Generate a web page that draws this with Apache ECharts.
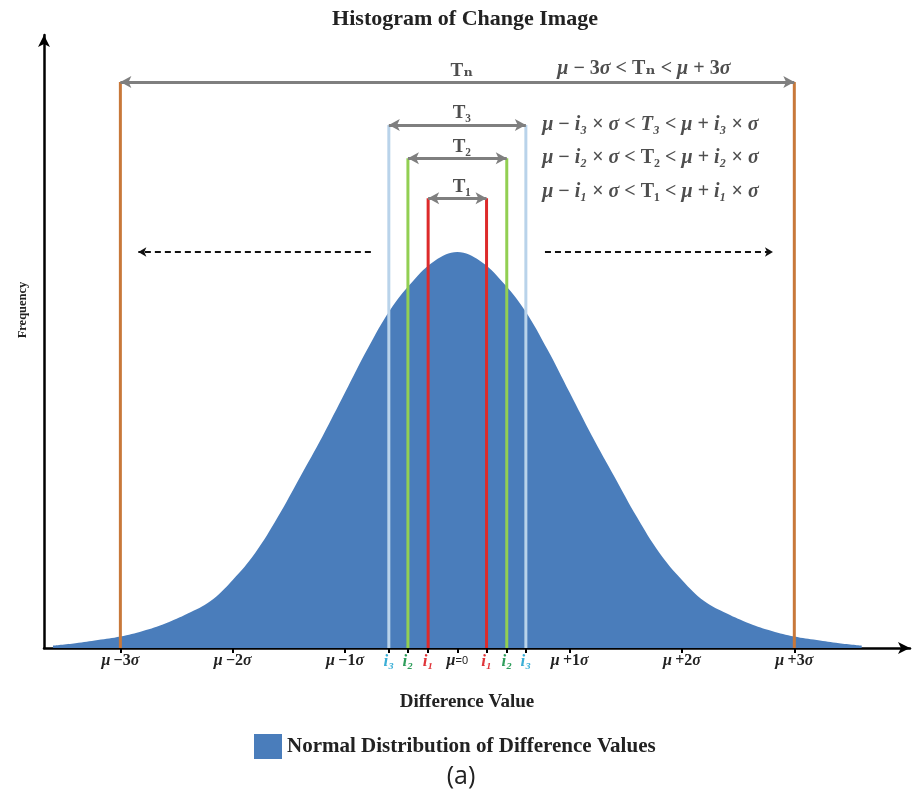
<!DOCTYPE html>
<html>
<head>
<meta charset="utf-8">
<script src="https://cdn.jsdelivr.net/npm/echarts@6/dist/echarts.min.js"></script>
<style>html,body{margin:0;padding:0;background:#fff}#c{width:915px;height:805px}</style>
</head>
<body>
<div id="c"></div>
<script>
// Curve: x in sigma units, relative frequency (peak = 100)
const xVals = [-3.6,-3.4,-3.2,-3.0,-2.8,-2.6,-2.4,-2.2,-2.0,-1.8,-1.6,-1.4,-1.2,-1.0,-0.8,-0.6,-0.4,-0.2,0,0.2,0.4,0.6,0.8,1.0,1.2,1.4,1.6,1.8,2.0,2.2,2.4,2.6,2.8,3.0,3.2,3.4,3.6];
const freq  = [0.6,1.2,2.0,2.9,4.3,6.2,8.7,11.8,17.2,24.0,33.0,43.2,53.5,64.5,75.5,85.3,92.5,97.8,100,97.8,92.5,85.3,75.5,64.5,53.5,43.2,33.0,24.0,17.2,11.8,8.7,6.2,4.3,2.9,2.0,1.2,0.6];
// Thresholds (sigma units) and bracket heights
const thrVals = [0.26, 0.44, 0.61, 3];
const thrTops = [113.6, 123.7, 132.1, 142.9];
const thrColors = ['#dd2a2a', '#92cf52', '#b9d3ea', '#c8783a'];
const bracketLabels = ['T₁', 'T₂', 'T₃', 'Tₙ'];
// Tick labels
const tickVals = [-3,-2,-1,-0.61,-0.44,-0.26,0,0.26,0.44,0.61,1,2,3];
const tickLabels = ['{m|μ} {b|−3}{m|σ}','{m|μ} {b|−2}{m|σ}','{m|μ} {b|−1}{m|σ}','{c3|i₃}','{c2|i₂}','{c1|i₁}','{m|μ}{z|=0}','{c1|i₁}','{c2|i₂}','{c3|i₃}','{m|μ} {b|+1}{m|σ}','{m|μ} {b|+2}{m|σ}','{m|μ} {b|+3}{m|σ}'];
// Dashed arrows (spread), at peak level
const spreadLeft = [-0.77, -2.84];
const spreadRight = [0.78, 2.81];
const spreadLevel = 100;

const SERIF = "'Liberation Serif','DejaVu Serif',serif";
const tickRich = {
  m: {fontFamily: SERIF, fontStyle: 'italic', fontWeight: 'bold', fontSize: 16, color: '#222'},
  b: {fontFamily: SERIF, fontWeight: 'bold', fontSize: 16, color: '#222'},
  z: {fontFamily: "'Liberation Sans',sans-serif", fontSize: 11, color: '#222'},
  c1: {fontFamily: SERIF, fontStyle: 'italic', fontWeight: 'bold', fontSize: 17, color: '#e0353a'},
  c2: {fontFamily: SERIF, fontStyle: 'italic', fontWeight: 'bold', fontSize: 17, color: '#2f9e5c'},
  c3: {fontFamily: SERIF, fontStyle: 'italic', fontWeight: 'bold', fontSize: 17, color: '#3aaed6'}
};
const fRich = {
  m: {fontFamily: SERIF, fontStyle: 'italic', fontWeight: 'bold', fontSize: 20, color: '#222'},
  b: {fontFamily: SERIF, fontWeight: 'bold', fontSize: 20, color: '#222'}
};

const series = [];
series.push({
  name: 'Normal Distribution of Difference Values',
  type: 'line',
  data: xVals.map((x, i) => [x, freq[i]]),
  smooth: 0.4,
  symbol: 'none',
  lineStyle: {width: 0, color: '#4a7dbb'},
  itemStyle: {color: '#4a7dbb'},
  areaStyle: {color: '#4a7dbb', opacity: 1},
  z: 1
});
// vertical threshold lines
thrVals.forEach((v, k) => {
  [-v, v].forEach(x => {
    series.push({
      type: 'line', data: [[x, 0], [x, thrTops[k]]], symbol: 'none', silent: true,
      lineStyle: {color: thrColors[k], width: 3}, z: 3
    });
  });
});
// bracket arrows
series.push({
  type: 'line', data: [], silent: true,
  markLine: {
    silent: true, symbol: ['arrow', 'arrow'], symbolSize: [9, 11],
    lineStyle: {color: '#7f7f7f', width: 3, type: 'solid'},
    label: {show: false},
    data: thrVals.map((v, k) => [{coord: [-v, thrTops[k]]}, {coord: [v, thrTops[k]]}])
  }
});
// dashed spread arrows
series.push({
  type: 'line', data: [], silent: true,
  markLine: {
    silent: true, symbolSize: [7, 8],
    lineStyle: {color: '#111', width: 2, type: [6, 4]},
    label: {show: false},
    data: [
      [{coord: [spreadLeft[0], spreadLevel], symbol: 'none'}, {coord: [spreadLeft[1], spreadLevel], symbol: 'arrow'}],
      [{coord: [spreadRight[0], spreadLevel], symbol: 'none'}, {coord: [spreadRight[1], spreadLevel], symbol: 'arrow'}]
    ]
  }
});
// bracket labels
series.push({
  type: 'scatter', symbolSize: 0, silent: true,
  data: thrVals.map((v, k) => ({value: [0.04, thrTops[k]], label: {formatter: '{t|' + bracketLabels[k] + '}'}})),
  label: {show: true, position: 'top', distance: 2, rich: {t: {fontFamily: SERIF, fontWeight: 'bold', fontSize: 19, color: '#222'}}}
});
// formula labels
const formulas = [
  {pos: [0.89, 142.9], text: '{m|μ}{b| − 3}{m|σ}{b| < Tₙ < }{m|μ}{b| + 3}{m|σ}', vOff: -13},
  {pos: [0.755, 132.1], text: '{m|μ}{b| − }{m|i₃}{b| × }{m|σ}{b| < }{m|T₃}{b| < }{m|μ}{b| + }{m|i₃}{b| × }{m|σ}', vOff: 0},
  {pos: [0.755, 123.7], text: '{m|μ}{b| − }{m|i₂}{b| × }{m|σ}{b| < T₂ < }{m|μ}{b| + }{m|i₂}{b| × }{m|σ}', vOff: 0},
  {pos: [0.755, 115.3], text: '{m|μ}{b| − }{m|i₁}{b| × }{m|σ}{b| < T₁ < }{m|μ}{b| + }{m|i₁}{b| × }{m|σ}', vOff: 0}
];
series.push({
  type: 'scatter', symbolSize: 0, silent: true,
  data: formulas.map(f => ({value: f.pos, label: {formatter: f.text, offset: [0, f.vOff]}})),
  label: {show: true, position: 'right', distance: 0, rich: fRich}
});

const chart = echarts.init(document.getElementById('c'));
chart.setOption({
  animation: false,
  backgroundColor: '#fff',
  title: {
    text: 'Histogram of Change Image', left: 460, top: 3, textAlign: 'center',
    textStyle: {fontFamily: SERIF, fontWeight: 'bold', fontSize: 22, color: '#222'}
  },
  legend: {
    data: ['Normal Distribution of Difference Values'],
    left: 249, top: 729, icon: 'rect', itemWidth: 28, itemHeight: 25, itemGap: 12,
    textStyle: {fontFamily: SERIF, fontWeight: 'bold', fontSize: 21, color: '#222'}
  },
  grid: {left: 44, right: 5, top: 35, bottom: 157, containLabel: false, outerBoundsMode: 'none'},
  xAxis: {
    type: 'value', min: -3.68, max: 4.03,
    splitLine: {show: false},
    axisLine: {show: true, onZero: false, symbol: ['none', 'arrow'], symbolSize: [9, 12], lineStyle: {color: '#000', width: 2.5}},
    axisTick: {show: true, customValues: tickVals, length: 5, lineStyle: {color: '#000', width: 2}},
    axisLabel: {
      show: true, customValues: tickVals, margin: 5, rich: tickRich,
      formatter: function (v) {
        for (let i = 0; i < tickVals.length; i++) if (Math.abs(tickVals[i] - v) < 1e-6) return tickLabels[i];
        return '';
      }
    }
  },
  yAxis: {
    type: 'value', min: 0, max: 154.8,
    splitLine: {show: false}, axisTick: {show: false}, axisLabel: {show: false},
    axisLine: {show: true, onZero: false, symbol: ['none', 'arrow'], symbolSize: [9, 12], lineStyle: {color: '#000', width: 2.5}}
  },
  graphic: [
    {type: 'text', x: 467, y: 702, style: {text: 'Difference Value', align: 'center', verticalAlign: 'middle', fontFamily: SERIF, fontWeight: 'bold', fontSize: 19, fill: '#222'}},
    {type: 'text', x: 23, y: 310, rotation: Math.PI / 2, style: {text: 'Frequency', align: 'center', verticalAlign: 'middle', fontFamily: SERIF, fontWeight: 'bold', fontSize: 12.5, fill: '#222'}},
    {type: 'text', x: 461, y: 777, style: {text: '(a)', align: 'center', verticalAlign: 'middle', fontFamily: "'Open Sans',sans-serif", fontSize: 25, fill: '#222'}}
  ],
  series: series
});
</script>
</body>
</html>
